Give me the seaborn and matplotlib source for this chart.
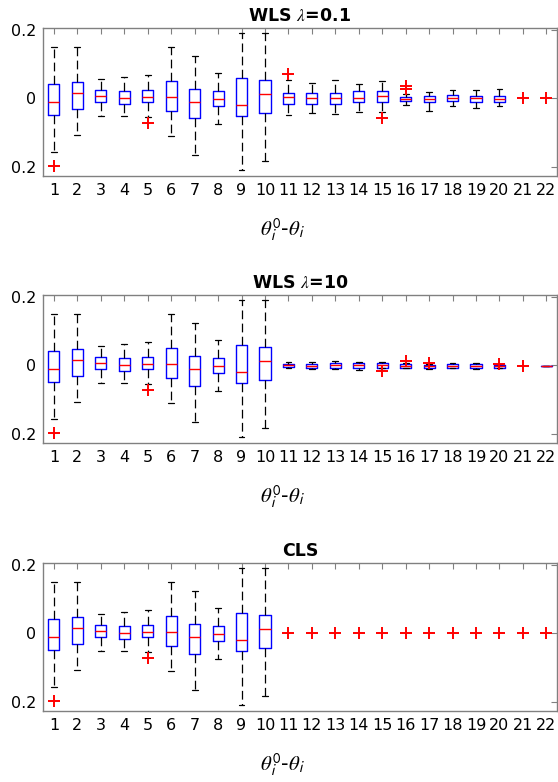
import numpy as np
import pandas as pd
import matplotlib
matplotlib.use("Agg")
import matplotlib.pyplot as plt
import seaborn as sns

# parameter index on the x axis
params = list(range(1, 23))

# five-number summaries read off the boxes (None = no box drawn)
# boxes 1-10 are the same in all three panels
lo_left = [-0.158, -0.108, -0.051, -0.051, -0.054, -0.111, -0.165, -0.074, -0.209, -0.183]
q1_left = [-0.050, -0.031, -0.012, -0.018, -0.012, -0.038, -0.059, -0.023, -0.051, -0.044]
med_left = [-0.012, 0.015, 0.006, 0.000, 0.005, 0.003, -0.012, -0.003, -0.020, 0.013]
q3_left = [0.041, 0.048, 0.024, 0.021, 0.024, 0.050, 0.028, 0.020, 0.059, 0.053]
hi_left = [0.149, 0.149, 0.057, 0.063, 0.067, 0.149, 0.125, 0.075, 0.190, 0.190]

# WLS lambda=0.1, boxes 11-22
lo_wls01 = [-0.048, -0.042, -0.045, -0.041, -0.040, -0.021, -0.037, -0.023, -0.028, -0.023, None, None]
q1_wls01 = [-0.016, -0.016, -0.016, -0.012, -0.012, -0.008, -0.012, -0.008, -0.010, -0.011, None, None]
med_wls01 = [0.004, 0.000, 0.000, 0.002, 0.006, -0.002, -0.003, 0.000, 0.000, -0.002, None, None]
q3_wls01 = [0.016, 0.014, 0.016, 0.020, 0.020, 0.004, 0.007, 0.009, 0.008, 0.006, None, None]
hi_wls01 = [0.053, 0.045, 0.053, 0.043, 0.051, 0.012, 0.019, 0.025, 0.025, 0.027, None, None]

# WLS lambda=10, boxes 11-22
lo_wls10 = [-0.009, -0.011, -0.012, -0.015, -0.009, -0.009, -0.012, -0.009, -0.010, -0.008, None, -0.002]
q1_wls10 = [-0.005, -0.007, -0.007, -0.007, -0.007, -0.007, -0.008, -0.007, -0.007, -0.007, None, -0.002]
med_wls10 = [0.000, -0.002, 0.000, 0.001, 0.001, -0.001, -0.003, -0.002, -0.002, -0.002, None, -0.002]
q3_wls10 = [0.003, 0.004, 0.006, 0.006, 0.006, 0.003, 0.000, 0.004, 0.003, 0.001, None, -0.002]
hi_wls10 = [0.009, 0.010, 0.014, 0.011, 0.011, 0.007, 0.005, 0.007, 0.007, 0.005, None, -0.002]

# outliers (red +)
out_x_wls01 = [1, 5, 11, 15, 16, 16, 21, 22]
out_y_wls01 = [-0.199, -0.071, 0.070, -0.058, 0.036, 0.028, 0.0, 0.0]
out_x_wls10 = [1, 5, 15, 16, 17, 20, 21]
out_y_wls10 = [-0.199, -0.071, -0.017, 0.013, 0.008, 0.005, -0.002]
out_x_cls = [1, 5, 11, 12, 13, 14, 15, 16, 17, 18, 19, 20, 21, 22]
out_y_cls = [-0.199, -0.071, 0, 0, 0, 0, 0, 0, 0, 0, 0, 0, 0, 0]

titles = [r"WLS $\lambda$=0.1", r"WLS $\lambda$=10", "CLS"]
ytick_vals = [-0.2, 0, 0.2]
ytick_labels = ["0.2", "0", "0.2"]
xlabel = r"$\theta_\mathsf{i}^\mathsf{0}$-$\theta_\mathsf{i}$"


def long_frame(lo, q1, med, q3, hi):
    rows = []
    for i, p in enumerate(params[:len(lo)]):
        if lo[i] is None:
            continue
        for v in (lo[i], q1[i], med[i], q3[i], hi[i]):
            rows.append({"param": p, "value": v})
    return pd.DataFrame(rows)


panels = [
    (long_frame(lo_left + lo_wls01, q1_left + q1_wls01, med_left + med_wls01,
                q3_left + q3_wls01, hi_left + hi_wls01), out_x_wls01, out_y_wls01),
    (long_frame(lo_left + lo_wls10, q1_left + q1_wls10, med_left + med_wls10,
                q3_left + q3_wls10, hi_left + hi_wls10), out_x_wls10, out_y_wls10),
    (long_frame(lo_left, q1_left, med_left, q3_left, hi_left), out_x_cls, out_y_cls),
]

sns.set_style("white")
plt.rcParams["font.family"] = ["DejaVu Sans"]
plt.rcParams["mathtext.fontset"] = "stix"
plt.rcParams["text.color"] = "black"
plt.rcParams["axes.labelcolor"] = "black"

fig = plt.figure(figsize=(5.58, 7.82), dpi=100)
bottoms = [0.775, 0.4335, 0.0908]

for k, (df, ox, oy) in enumerate(panels):
    ax = fig.add_axes([0.077, bottoms[k], 0.921, 0.189])
    sns.boxplot(data=df, x="param", y="value", orient="x", native_scale=True,
                whis=(0, 100), width=0.47, fill=False, color="blue",
                linewidth=1.0, ax=ax,
                boxprops={"color": "blue"},
                medianprops={"color": "red"},
                whiskerprops={"color": "black", "linestyle": (0, (7, 3.5)), "linewidth": 0.9},
                capprops={"color": "black", "linewidth": 0.9},
                capwidths=0.25)
    sns.scatterplot(x=ox, y=oy, marker="+", color="red", s=70, linewidth=1.4,
                    ax=ax, zorder=5)

    ax.set_xlim(0.53, 22.45)
    ax.set_ylim(-0.227, 0.205)
    ax.set_xticks(params)
    ax.set_xticklabels([str(p) for p in params])
    ax.set_yticks(ytick_vals)
    ax.set_yticklabels(ytick_labels)
    ax.tick_params(direction="in", top=True, right=True, length=4, width=0.8,
                   color="#808080", labelsize=11.5, labelcolor="black", pad=5)
    for s in ax.spines.values():
        s.set_color("#808080")
        s.set_linewidth(1.0)
        s.set_visible(True)
    ax.set_title(titles[k], fontsize=12.5, fontweight="bold", color="black", pad=5)
    ax.set_xlabel(xlabel, fontsize=15, color="black")
    ax.xaxis.set_label_coords(0.465, -0.27)
    ax.set_ylabel("")

fig.savefig("out.png", dpi=100)
